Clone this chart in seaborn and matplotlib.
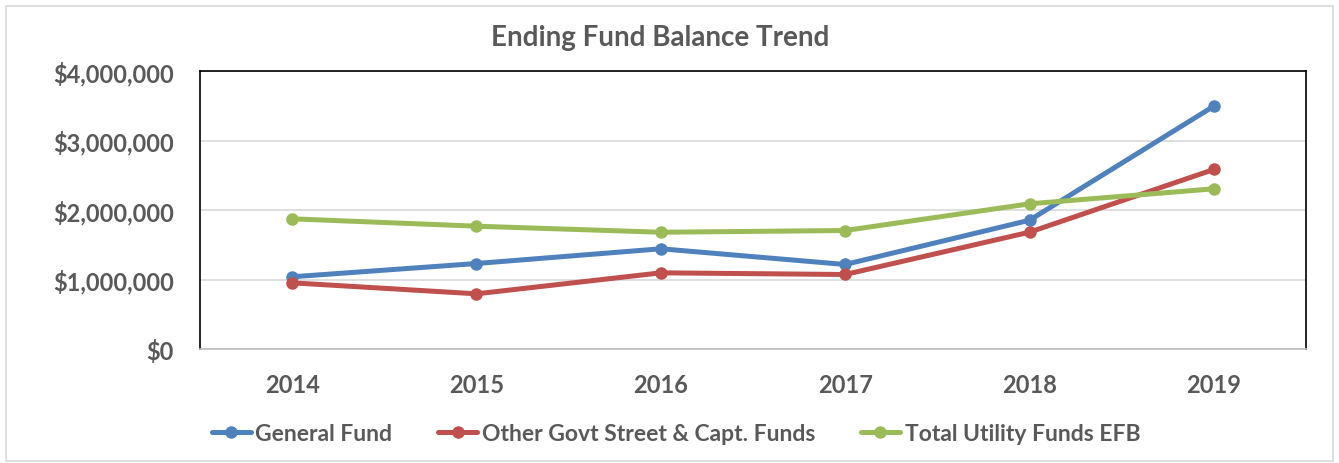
import matplotlib
matplotlib.use("Agg")
import matplotlib.pyplot as plt
import matplotlib.ticker as mticker
from matplotlib.patches import Rectangle
import pandas as pd
import seaborn as sns

# Data
years = ["2014", "2015", "2016", "2017", "2018", "2019"]
general_fund = [1039000, 1230000, 1442000, 1216000, 1853000, 3494000]
other_govt = [952000, 794000, 1096000, 1072000, 1681000, 2583000]
utility_funds = [1873000, 1767000, 1680000, 1705000, 2089000, 2305000]
series_names = ["General Fund", "Other Govt Street & Capt. Funds", "Total Utility Funds EFB"]
colors = ["#4F81BD", "#C0504D", "#9BBB59"]

df = pd.DataFrame({
    "Year": years * 3,
    "Value": general_fund + other_govt + utility_funds,
    "Series": [s for s in series_names for _ in years],
})

sns.set_style("white")
plt.rcParams["font.family"] = ["Lato", "DejaVu Sans"]
text_color = "#595959"

fig = plt.figure(figsize=(13.39, 4.64), dpi=100)
ax = fig.add_axes([200 / 1339, 1 - 350 / 464, 1106 / 1339, 278 / 464])

sns.lineplot(
    data=df,
    x="Year",
    y="Value",
    hue="Series",
    palette=colors,
    marker="o",
    markersize=9,
    markeredgewidth=0,
    linewidth=3.6,
    sort=False,
    ax=ax,
)

ax.set_xlim(-0.5, 5.5)
ax.set_ylim(0, 4000000)
ax.yaxis.set_major_locator(mticker.MultipleLocator(1000000))
ax.yaxis.set_major_formatter(mticker.FuncFormatter(lambda v, p: f"${v:,.0f}"))
ax.grid(axis="y", color="#D9D9D9", linewidth=1.2)
ax.set_axisbelow(True)
ax.set_xlabel("")
ax.set_ylabel("")

for side in ["left", "top", "right"]:
    ax.spines[side].set_color("black")
    ax.spines[side].set_linewidth(1.2)
ax.spines["bottom"].set_color("#BFBFBF")
ax.spines["bottom"].set_linewidth(1.2)

ax.tick_params(axis="both", length=0, labelsize=17, labelcolor=text_color)
ax.tick_params(axis="y", pad=19)
ax.tick_params(axis="x", pad=17)
for lab in ax.get_xticklabels() + ax.get_yticklabels():
    lab.set_fontweight("bold")

fig.text(660 / 1339, 1 - 38 / 464, "Ending Fund Balance Trend",
         ha="center", va="center", fontsize=20, fontweight="bold", color=text_color)

handles, labels = ax.get_legend_handles_labels()
ax.get_legend().remove()
fig.legend(
    handles, labels,
    loc="center",
    bbox_to_anchor=(676 / 1339, 1 - 435 / 464),
    ncol=3,
    frameon=False,
    handlelength=1.7,
    handletextpad=0.2,
    columnspacing=2.0,
    prop={"size": 16.5, "weight": "bold"},
    labelcolor=text_color,
)

# light outer chart border
fig.patches.append(Rectangle((6 / 1339, 2 / 464), 1327 / 1339, 455 / 464,
                             transform=fig.transFigure, fill=False,
                             edgecolor="#D9D9D9", linewidth=1.2))

fig.savefig("out.png", dpi=100)
